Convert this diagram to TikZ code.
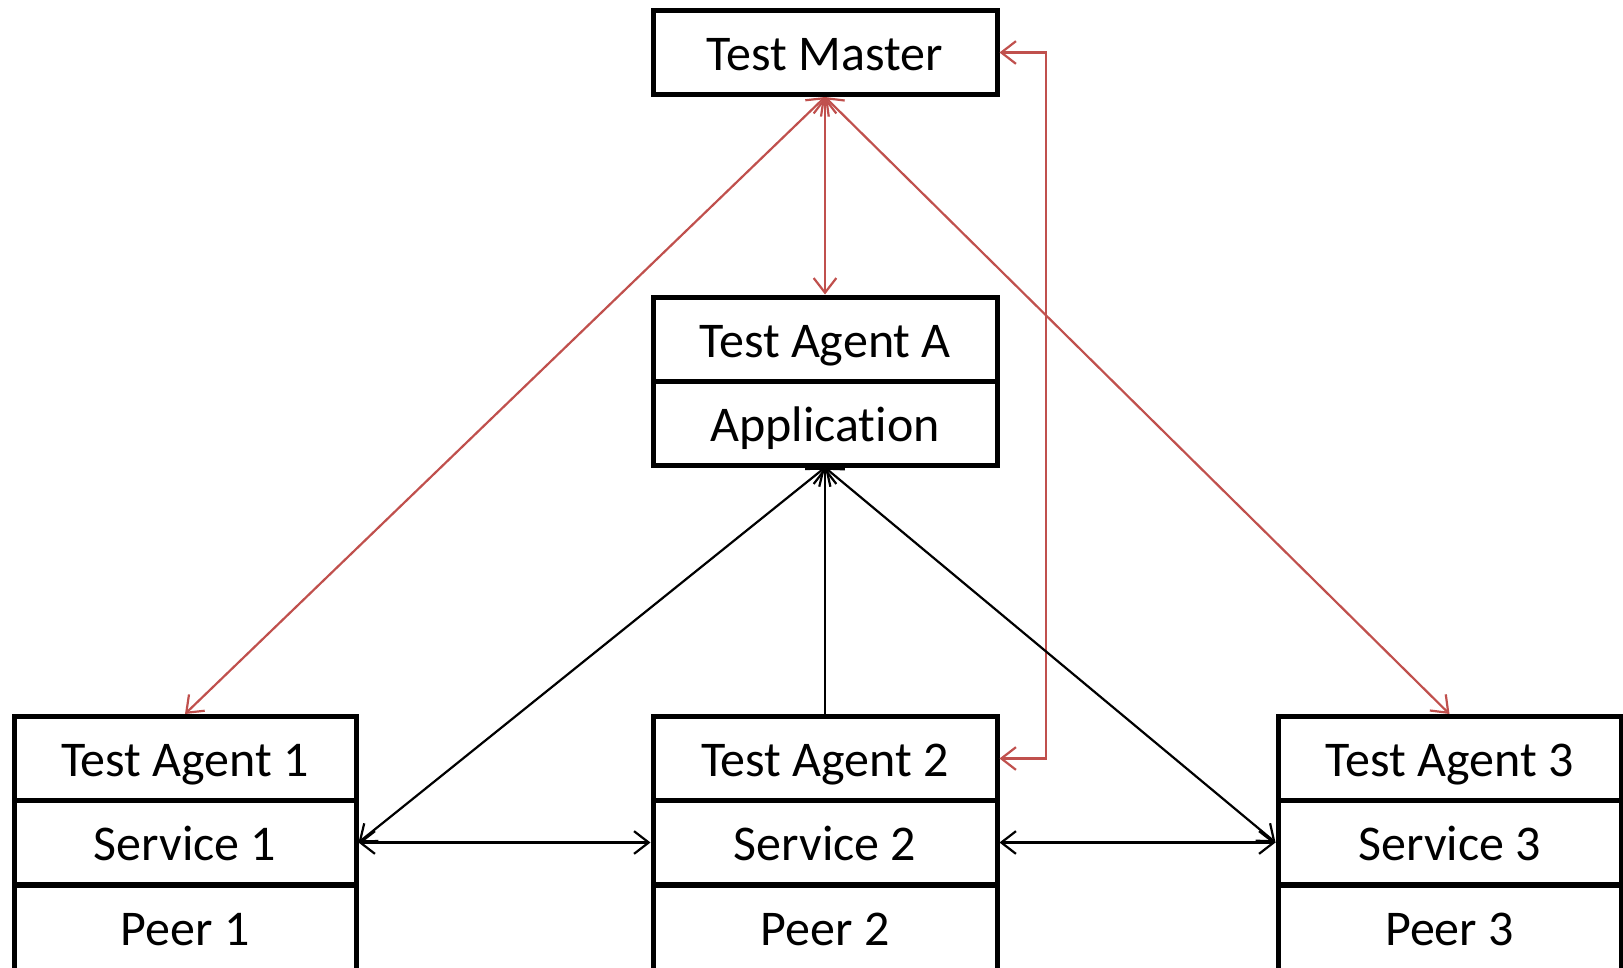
\documentclass[tikz,border=0pt]{standalone}
\usepackage{fontspec}
\setmainfont{Carlito}[Ligatures=NoCommon]
\usetikzlibrary{arrows.meta}
\definecolor{redline}{RGB}{192,80,77}
\tikzset{
  label font/.style={font=\fontsize{37.5}{40}\selectfont, text height=27pt, text depth=0pt},
  cell/.style={draw=black, line width=3.75pt, fill=white, inner sep=0pt,
    minimum width=#1, minimum height=63pt, label font},
  cell/.default=258pt,
  barbs/.style={{Straight Barb[length=11pt, width=17pt]}-{Straight Barb[length=11pt, width=17pt]}},
  barbend/.style={-{Straight Barb[length=11pt, width=17pt]}},
  redconn/.style={line width=1.65pt, draw=redline},
  blackconn/.style={line width=1.65pt, draw=black}
}
\begin{document}
\begin{tikzpicture}[x=0.75pt, y=-0.75pt]
\useasboundingbox (0,0) rectangle (1623,967);
\node[cell] (tm) at (825,52.5) {Test Master};
\node[cell] (taa) at (825,339) {Test Agent A};
\node[cell] (app) at (825,423) {Application};
\node[cell=256.5pt] (ta1) at (185,758.5) {Test Agent 1};
\node[cell=256.5pt] (s1) at (185,842.5) {Service 1};
\node[cell=256.5pt, minimum height=67.5pt] (p1) at (185,930) {};
\node[label font, inner sep=0pt] (p1t) at (185,927) {Peer 1};
\node[cell] (ta2) at (825,758.5) {Test Agent 2};
\node[cell] (s2) at (825,842.5) {Service 2};
\node[cell, minimum height=67.5pt] (p2) at (825,930) {};
\node[label font, inner sep=0pt] (p2t) at (825,927) {Peer 2};
\node[cell=257.25pt] (ta3) at (1449.5,758.5) {Test Agent 3};
\node[cell=257.25pt] (s3) at (1449.5,842.5) {Service 3};
\node[cell=257.25pt, minimum height=67.5pt] (p3) at (1449.5,930) {};
\node[label font, inner sep=0pt] (p3t) at (1449.5,927) {Peer 3};
% red connectors
\draw[redconn, barbs] (tm.south) -- (ta1.north);
\draw[redconn, barbs] (tm.south) -- (taa.north);
\draw[redconn, barbs] (tm.south) -- (ta3.north);
\coordinate (elb) at (1046,52.5);
\draw[redconn, barbs] (tm.east) -- (elb) |- (ta2.east);
% black connectors
\draw[blackconn, barbs] (app.south) -- (s1.east);
\draw[blackconn, barbs] (app.south) -- (s3.west);
\draw[blackconn, barbend] (ta2.north) -- (app.south);
\draw[blackconn, barbs] (s1.east) -- (s2.west);
\draw[blackconn, barbs] (s2.east) -- (s3.west);
\end{tikzpicture}
\end{document}
